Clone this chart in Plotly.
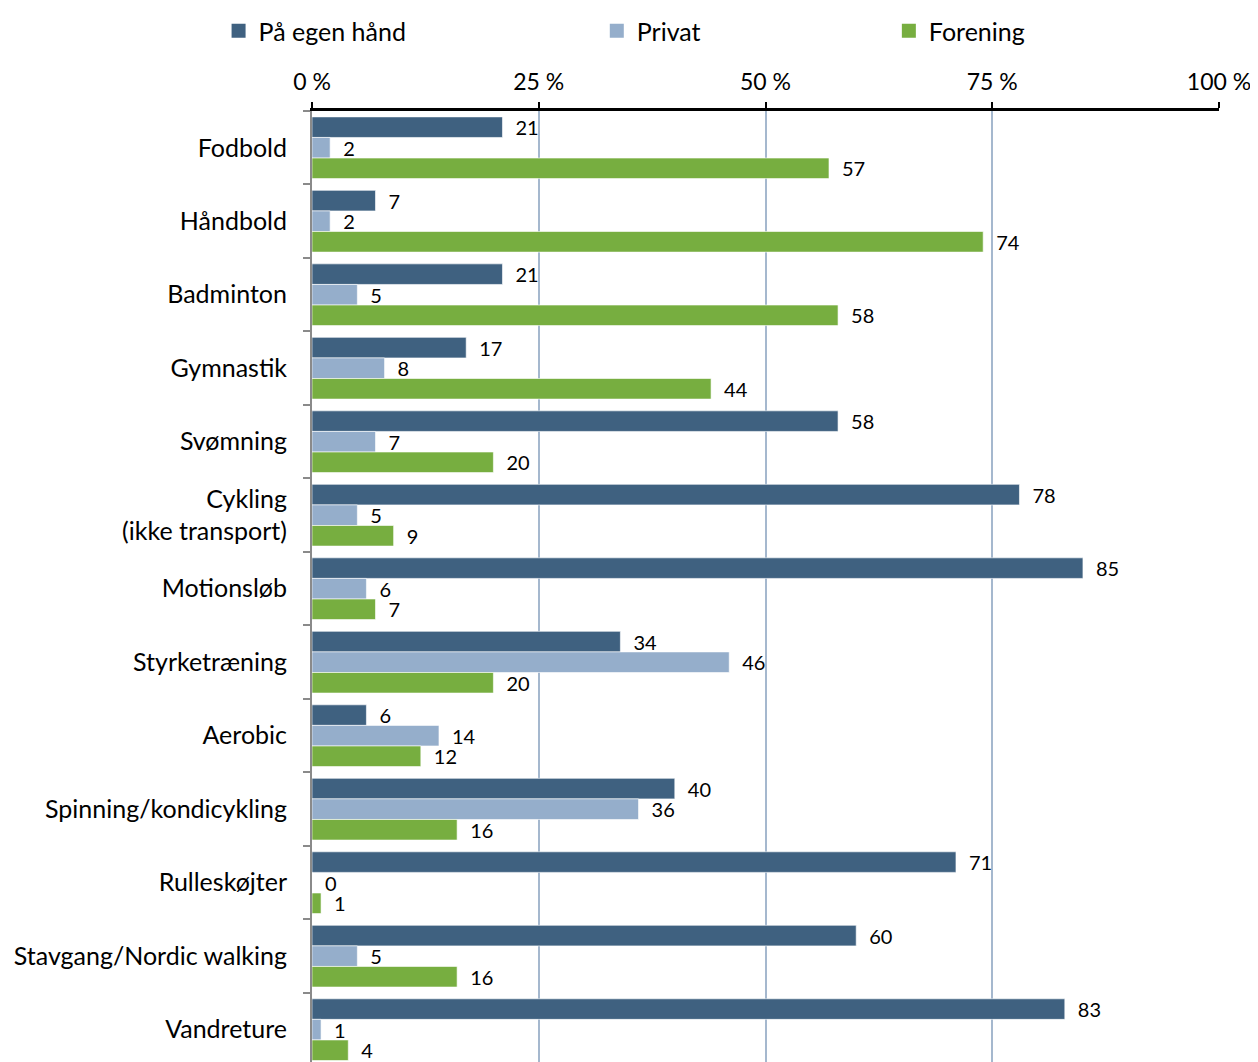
import plotly.graph_objects as go

kategorier = [
    "Fodbold", "Håndbold", "Badminton", "Gymnastik", "Svømning",
    "Cykling<br>(ikke transport)", "Motionsløb", "Styrketræning", "Aerobic",
    "Spinning/kondicykling", "Rulleskøjter", "Stavgang/Nordic walking", "Vandreture",
]
egen_haand = [21, 7, 21, 17, 58, 78, 85, 34, 6, 40, 71, 60, 83]
privat = [2, 2, 5, 8, 7, 5, 6, 46, 14, 36, 0, 5, 1]
forening = [57, 74, 58, 44, 20, 9, 7, 20, 12, 16, 1, 16, 4]

x_ticks = [0, 25, 50, 75, 100]
x_tick_text = ["0 %", "25 %", "50 %", "75 %", "100 %"]

FONT = "Lato"
serier = [
    ("På egen hånd", egen_haand, "#3F6180", "legend"),
    ("Privat", privat, "#95AECB", "legend2"),
    ("Forening", forening, "#77AE40", "legend3"),
]

fig = go.Figure()
for navn, vaerdier, farve, leg in serier:
    fig.add_trace(go.Bar(
        name=navn, y=kategorier, x=vaerdier, orientation="h",
        marker=dict(color=farve, line=dict(color="rgba(255,255,255,0.6)", width=1)),
        text=["\u2002" + str(v) for v in vaerdier], textposition="outside",
        textfont=dict(family=FONT, size=20, color="black"),
        constraintext="none", cliponaxis=False, showlegend=False,
    ))
    # legend entry with a bigger square symbol
    fig.add_trace(go.Scatter(
        name=navn, x=[None], y=[None], mode="markers",
        marker=dict(symbol="square", size=14, color=farve),
        legend=leg, showlegend=True,
    ))

leg_base = dict(orientation="h", yanchor="top", y=1.0, yref="container",
                font=dict(family=FONT, size=25, color="black"),
                bgcolor="rgba(0,0,0,0)", itemwidth=30)
fig.update_layout(
    width=1250, height=1054,
    margin=dict(l=304, r=39, t=103, b=0),
    plot_bgcolor="white", paper_bgcolor="white",
    barmode="group", bargap=0.16, bargroupgap=0,
    font=dict(family=FONT, size=25, color="black"),
    showlegend=True,
    legend=dict(leg_base, x=-0.103, xanchor="left"),
    legend2=dict(leg_base, x=0.314, xanchor="left"),
    legend3=dict(leg_base, x=0.636, xanchor="left"),
    xaxis=dict(
        side="top", range=[0, 100], tickvals=x_ticks, ticktext=x_tick_text,
        tickfont=dict(family=FONT, size=23, color="black"),
        showline=True, linecolor="black", linewidth=3,
        ticks="outside", ticklen=6, tickwidth=2, tickcolor="black",
        ticklabelstandoff=3,
        showgrid=True, gridcolor="#A5B8CE", gridwidth=2,
        zeroline=False, fixedrange=True,
    ),
    yaxis=dict(
        range=[12.44, -0.5], tickson="boundaries",
        ticks="outside", ticklen=7, tickwidth=2, tickcolor="#8A8A8A",
        showline=True, linecolor="#8A8A8A", linewidth=2,
        tickfont=dict(family=FONT, size=25, color="black"),
        ticklabelstandoff=18, showgrid=False, fixedrange=True,
    ),
)

fig.write_html("out.html")
